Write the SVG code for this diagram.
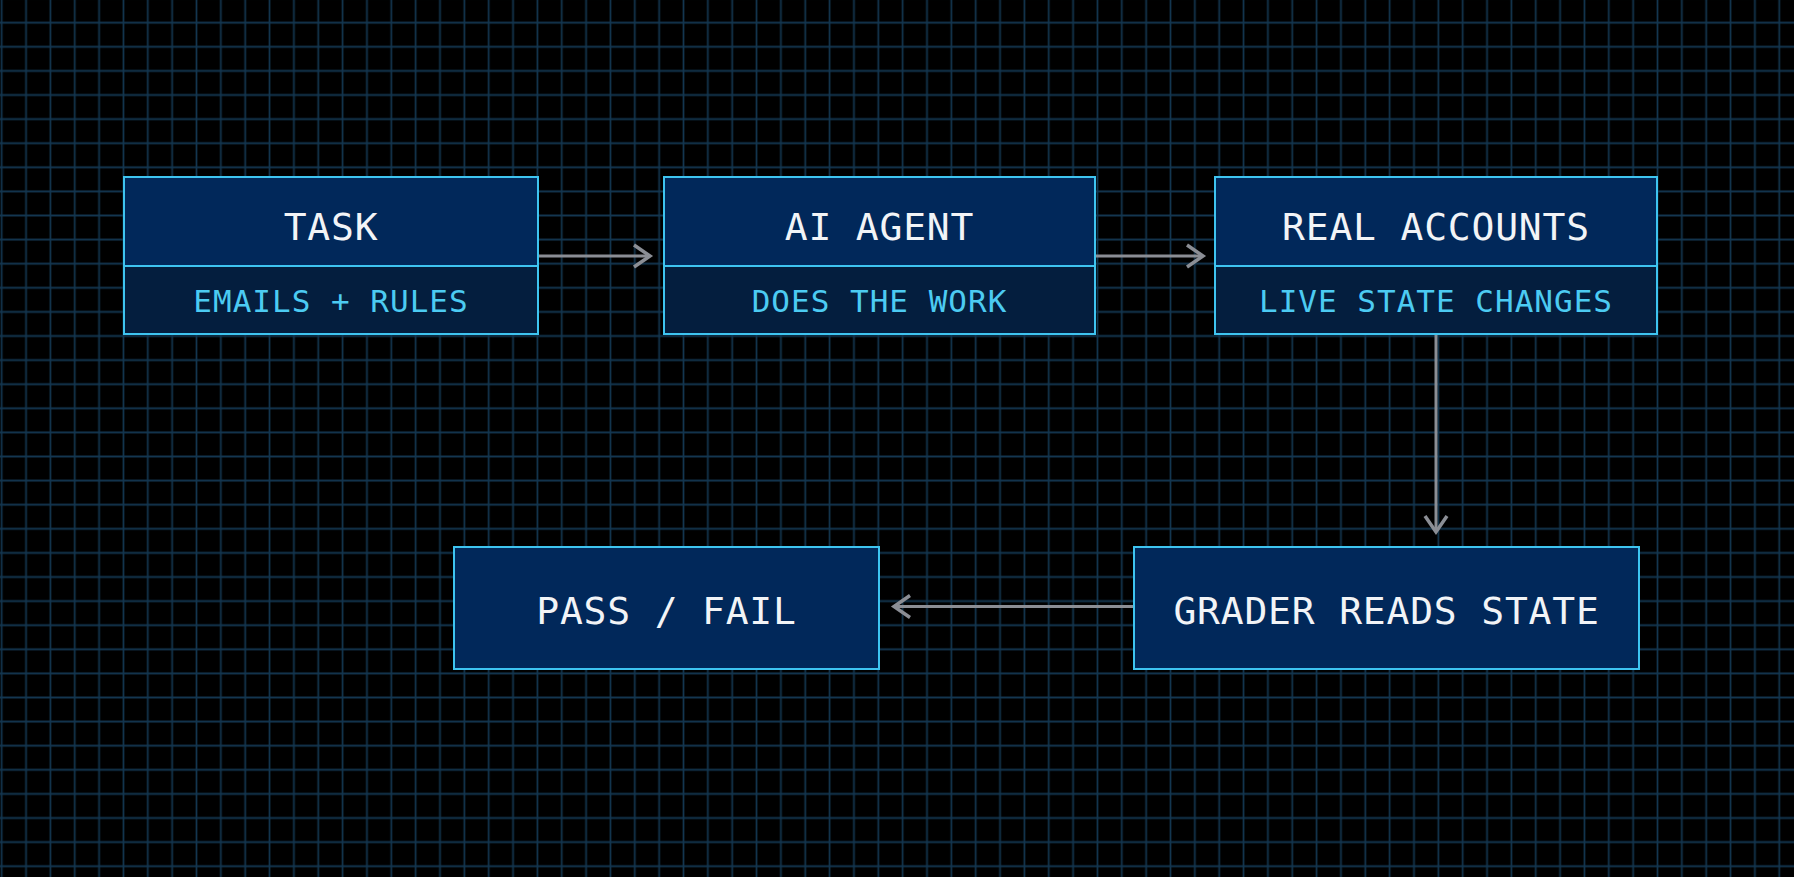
<svg xmlns="http://www.w3.org/2000/svg" width="1794" height="877" viewBox="0 0 1794 877">
  <defs>
    <pattern id="grid" patternUnits="userSpaceOnUse" x="-10.475" y="10.65" width="24.35" height="24.1">
      <path d="M12.175 0V24.1M0 12.05H24.35" stroke="#133650" stroke-width="1.7" fill="none"/>
    </pattern>
    <marker id="arrow" markerUnits="userSpaceOnUse" markerWidth="30" markerHeight="30" viewBox="-25 -15 30 30" refX="0" refY="0" orient="auto">
      <path d="M-16,-11 L0,0 L-16,11" fill="none" stroke="#8b8e95" stroke-width="3.5" stroke-linejoin="miter"/>
    </marker>
  </defs>
  <style>
    .head { fill: #01285a; stroke: #3ec4f0; stroke-width: 2; }
    .sub { fill: #041e3e; stroke: #3ec4f0; stroke-width: 2; }
    .title { font-family: "DejaVu Sans Mono", "Liberation Mono", monospace; font-size: 38px; letter-spacing: 0.8px; fill: #f2f4f7; text-anchor: middle; }
    .subt { font-family: "DejaVu Sans Mono", "Liberation Mono", monospace; font-size: 31px; letter-spacing: 1px; fill: #4ccbf2; text-anchor: middle; }
    .conn { stroke: #8b8e95; stroke-width: 3; fill: none; marker-end: url(#arrow); }
  </style>
  <rect width="1794" height="877" fill="#000000"/>
  <rect width="1794" height="877" fill="url(#grid)"/>

  <g id="connectors">
    <path class="conn" d="M539,256 H650"/>
    <path class="conn" d="M1095,256 H1203"/>
    <path class="conn" d="M1436,335 V532"/>
    <path class="conn" d="M1133,606.5 H894"/>
  </g>

  <g id="task">
    <rect class="sub" x="124" y="177" width="414" height="157"/>
    <rect class="head" x="124" y="177" width="414" height="89"/>
    <text class="title" x="331" y="240">TASK</text>
    <text class="subt" x="331" y="312">EMAILS + RULES</text>
  </g>

  <g id="ai-agent">
    <rect class="sub" x="664" y="177" width="431" height="157"/>
    <rect class="head" x="664" y="177" width="431" height="89"/>
    <text class="title" x="879.5" y="240">AI AGENT</text>
    <text class="subt" x="879.5" y="312">DOES THE WORK</text>
  </g>

  <g id="real-accounts">
    <rect class="sub" x="1215" y="177" width="442" height="157"/>
    <rect class="head" x="1215" y="177" width="442" height="89"/>
    <text class="title" x="1436" y="240">REAL ACCOUNTS</text>
    <text class="subt" x="1436" y="312">LIVE STATE CHANGES</text>
  </g>

  <g id="grader">
    <rect class="head" x="1134" y="547" width="505" height="122"/>
    <text class="title" x="1386.5" y="623.5">GRADER READS STATE</text>
  </g>

  <g id="pass-fail">
    <rect class="head" x="454" y="547" width="425" height="122"/>
    <text class="title" x="666.5" y="623.5">PASS / FAIL</text>
  </g>
</svg>
